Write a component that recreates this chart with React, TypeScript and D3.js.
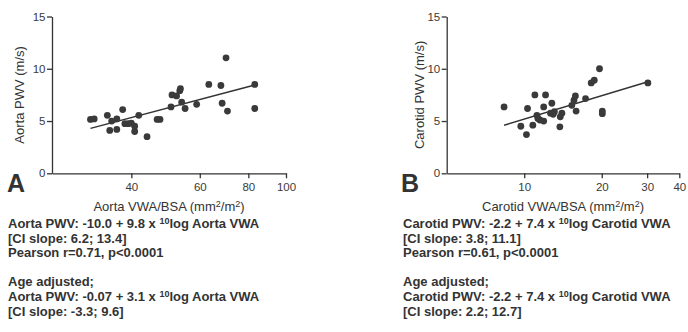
import { useEffect, useRef } from 'react'
import * as d3 from 'd3'

// Panel A: aorta
const aortaVwa = [31.4, 32.1, 34.7, 38.0, 35.2, 36.7, 35.6, 36.7, 38.5, 39.3, 40.0, 40.8, 40.8, 41.8, 43.9, 46.6, 47.4, 50.6, 50.9, 52.3, 53.3, 53.5, 53.9, 55.0, 58.9, 63.3, 68.0, 68.5, 70.7, 70.1, 83.1, 83.1]
const aortaPwv = [5.15, 5.2, 5.55, 6.1, 4.1, 5.2, 5.0, 4.2, 4.75, 4.75, 4.8, 4.5, 4.0, 5.55, 3.5, 5.15, 5.15, 6.35, 7.5, 7.4, 7.9, 8.1, 6.8, 6.2, 6.6, 8.5, 8.4, 6.7, 5.95, 11.05, 8.5, 6.2]
const aortaFitX = [31.4, 83.1]
const aortaFitY = [4.3, 8.45]
const aortaXTicks = [40, 60, 80, 100]

// Panel B: carotid
const carotidVwa = [8.35, 9.7, 10.2, 10.3, 10.8, 11.0, 11.2, 11.3, 11.5, 11.9, 11.9, 12.1, 12.8, 12.65, 12.95, 13.1, 13.8, 13.75, 14.0, 15.3, 15.6, 15.8, 15.9, 17.3, 18.2, 18.7, 19.6, 20.1, 20.1, 30.2]
const carotidPwv = [6.35, 4.5, 3.7, 6.2, 4.6, 7.5, 5.55, 5.25, 5.1, 5.0, 6.35, 7.5, 6.7, 5.75, 5.65, 5.9, 5.4, 4.45, 5.75, 6.5, 7.0, 7.4, 5.95, 7.15, 8.65, 8.9, 10.0, 5.95, 5.7, 8.65]
const carotidFitX = [8.35, 30.2]
const carotidFitY = [4.6, 8.75]
const carotidXTicks = [10, 20, 30, 40]

const yTicks = [0, 5, 10, 15]

const aortaNotes = [
  'Aorta PWV: -10.0 + 9.8 x ^10log Aorta VWA',
  '[CI slope: 6.2; 13.4]',
  'Pearson r=0.71, p<0.0001',
  '',
  'Age adjusted;',
  'Aorta PWV: -0.07 + 3.1 x ^10log Aorta VWA',
  '[CI slope: -3.3; 9.6]',
]
const carotidNotes = [
  'Carotid PWV: -2.2 + 7.4 x ^10log Carotid VWA',
  '[CI slope: 3.8; 11.1]',
  'Pearson r=0.61, p<0.0001',
  '',
  'Age adjusted;',
  'Carotid PWV: -2.2 + 7.4 x ^10log Carotid VWA',
  '[CI slope: 2.2; 12.7]',
]

const FONT = '"Liberation Sans", Arial, sans-serif'
const INK = '#333'

// writes "a^2b" style strings with superscripts into a text element
function richText(sel: d3.Selection<SVGTextElement, unknown, null, undefined>, str: string, supSize: number) {
  const parts = str.split(/\^(\d+)/)
  parts.forEach((p, i) => {
    if (!p) return
    const sup = i % 2 === 1
    sel.append('tspan')
      .attr('font-size', sup ? supSize : null)
      .attr('baseline-shift', sup ? '40%' : null)
      .text(p)
  })
}

export default function App() {
  const svgRef = useRef<SVGSVGElement>(null)

  useEffect(() => {
    if (!svgRef.current) return
    const svg = d3.select(svgRef.current)
    svg.selectAll('*').remove()

    const top = 16.5
    const bottom = 173.3

    const panels = [
      { letter: 'A', vwa: aortaVwa, pwv: aortaPwv, fitX: aortaFitX, fitY: aortaFitY, xTicks: aortaXTicks,
        domain: [25, 100], x0: 52, x1: 286, yLabel: 'Aorta PWV (m/s)', yLabelX: 19,
        xLabel: 'Aorta VWA/BSA (mm^2/m^2)', letterX: 7, notes: aortaNotes, notesX: 8 },
      { letter: 'B', vwa: carotidVwa, pwv: carotidPwv, fitX: carotidFitX, fitY: carotidFitY, xTicks: carotidXTicks,
        domain: [5, 40], x0: 446.7, x1: 679.3, yLabel: 'Carotid PWV (m/s)', yLabelX: 419,
        xLabel: 'Carotid VWA/BSA (mm^2/m^2)', letterX: 401, notes: carotidNotes, notesX: 403 },
    ]

    panels.forEach((p) => {
      const x = d3.scaleLog().domain(p.domain).range([p.x0, p.x1])
      const y = d3.scaleLinear().domain([0, 15]).range([bottom, top])
      const g = svg.append('g').attr('font-family', FONT)

      // axes
      const xAxis = g.append('g')
        .attr('transform', `translate(0,${bottom})`)
        .call(d3.axisBottom(x).tickValues(p.xTicks).tickFormat(d3.format('d')).tickSizeInner(5).tickSizeOuter(0).tickPadding(5))
      const yAxis = g.append('g')
        .attr('transform', `translate(${p.x0},0)`)
        .call(d3.axisLeft(y).tickValues(yTicks).tickSizeInner(5).tickSizeOuter(0).tickPadding(1.5))
      for (const ax of [xAxis, yAxis]) {
        ax.select('.domain').attr('stroke', INK).attr('stroke-width', 1.3)
        ax.selectAll('.tick line').attr('stroke', INK).attr('stroke-width', 1.3)
        ax.selectAll('.tick text').attr('fill', '#3a3a3a').attr('font-size', 11.5).attr('font-family', FONT)
      }

      // fit line
      const fit = p.fitX.map((v, i) => [v, p.fitY[i]] as [number, number])
      g.append('path')
        .datum(fit)
        .attr('fill', 'none')
        .attr('stroke', INK)
        .attr('stroke-width', 1.5)
        .attr('d', d3.line<[number, number]>().x((d) => x(d[0])).y((d) => y(d[1])))

      // points
      g.selectAll('.dot')
        .data(p.vwa.map((v, i) => ({ v, w: p.pwv[i] })))
        .enter()
        .append('circle')
        .attr('cx', (d) => x(d.v))
        .attr('cy', (d) => y(d.w))
        .attr('r', 3.4)
        .attr('fill', '#3a3a3a')

      // y label
      g.append('text')
        .attr('transform', `translate(${p.yLabelX},${(top + bottom) / 2}) rotate(-90)`)
        .attr('text-anchor', 'middle')
        .attr('dy', '0.35em')
        .attr('fill', INK)
        .attr('font-size', 13)
        .text(p.yLabel)

      // x label
      const xl = g.append('text')
        .attr('x', (p.x0 + p.x1) / 2)
        .attr('y', 211)
        .attr('text-anchor', 'middle')
        .attr('fill', INK)
        .attr('font-size', 13)
      richText(xl, p.xLabel, 9)

      // panel letter
      g.append('text')
        .attr('x', p.letterX)
        .attr('y', 192)
        .attr('fill', INK)
        .attr('font-size', 25)
        .attr('font-weight', 'bold')
        .text(p.letter)

      // notes
      p.notes.forEach((line, i) => {
        if (!line) return
        const t = g.append('text')
          .attr('x', p.notesX)
          .attr('y', 228 + i * 14.6)
          .attr('fill', INK)
          .attr('font-size', 13)
          .attr('font-weight', 'bold')
        richText(t, line, 9)
      })
    })
  }, [])

  return (
    <svg
      ref={svgRef}
      width={688}
      height={332}
      style={{ position: 'absolute', left: 0, top: 0, background: '#fff' }}
    />
  )
}
